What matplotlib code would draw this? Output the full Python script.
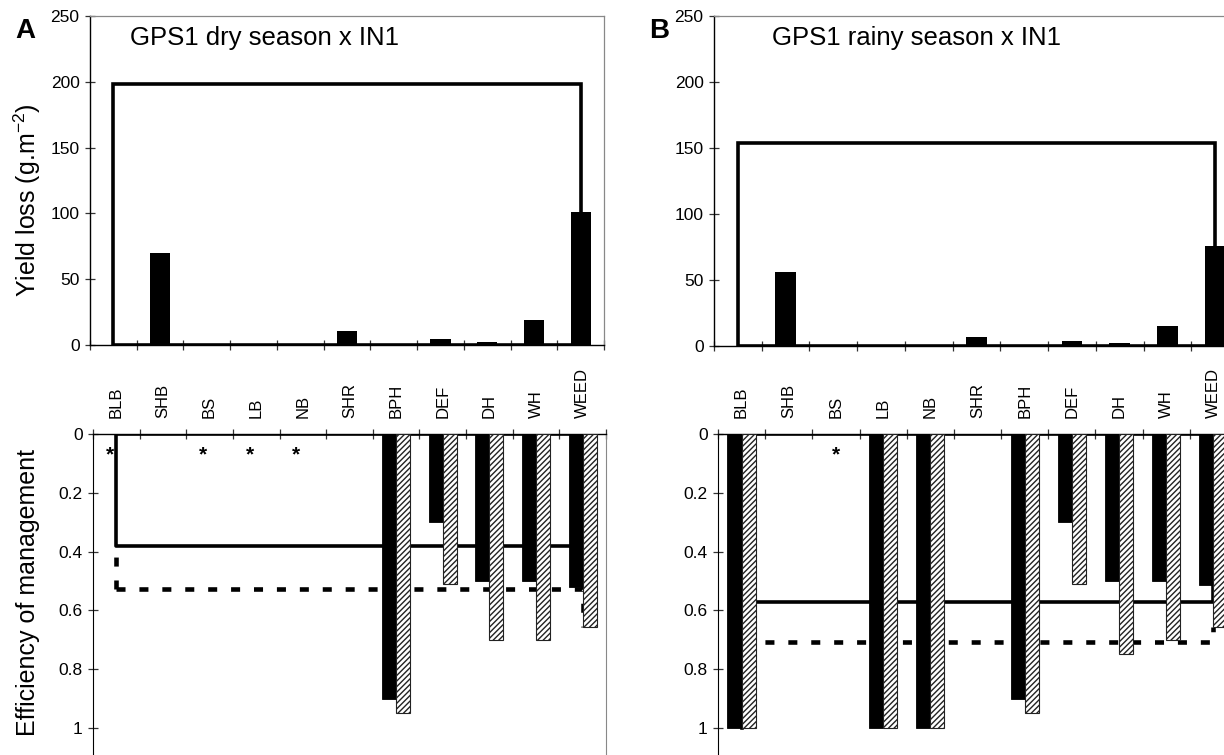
import numpy as np
import matplotlib
matplotlib.use("Agg")
import matplotlib.pyplot as plt

plt.rcParams["font.family"] = ["Liberation Sans", "DejaVu Sans"]
plt.rcParams["mathtext.fontset"] = "custom"
plt.rcParams["mathtext.rm"] = "Liberation Sans"
plt.rcParams["mathtext.it"] = "Liberation Sans:italic"
plt.rcParams["hatch.linewidth"] = 1.0
plt.rcParams["lines.scale_dashes"] = False

# ---- data ----
categories = ["BLB", "SHB", "BS", "LB", "NB", "SHR", "BPH", "DEF", "DH", "WH", "WEED"]

loss_dry = [0, 70, 0, 0, 0, 10.5, 0.5, 4.5, 2, 19, 101]
loss_rainy = [0, 56, 0, 0, 0, 7, 1, 4, 2, 15, 76]
loss_level_dry = 198
loss_level_rainy = 154

nan = np.nan
eff_dry_solid = [nan, nan, nan, nan, nan, nan, 0.90, 0.30, 0.50, 0.50, 0.52]
eff_dry_hatch = [nan, nan, nan, nan, nan, nan, 0.95, 0.51, 0.70, 0.70, 0.655]
eff_rainy_solid = [1.0, nan, nan, 1.0, 1.0, nan, 0.90, 0.30, 0.50, 0.50, 0.515]
eff_rainy_hatch = [1.0, nan, nan, 1.0, 1.0, nan, 0.95, 0.51, 0.75, 0.70, 0.657]
eff_level_dry = (0.38, 0.527)
eff_level_rainy = (0.571, 0.707)

star_dry = ["BLB", "BS", "LB", "NB"]
star_rainy = ["BS"]

W, H = 1224, 755
fig = plt.figure(figsize=(W / 100, H / 100), dpi=100)


def box(x0, y_top, width, height):
    return [x0 / W, (H - y_top - height) / H, width / W, height / H]


n = len(categories)
xc = np.arange(n) + 0.5
LW = 2.6
DASH = (0, (6.5, 10.0))


def style_common(ax):
    ax.set_xlim(0, n)
    ax.tick_params(axis="both", which="both", direction="inout", length=7,
                   width=0.9, color="#333333", labelsize=12.5)


def loss_panel(ax, values, level):
    style_common(ax)
    ax.set_ylim(0, 250)
    ax.set_yticks(np.arange(0, 251, 50))
    ax.set_xticks(np.arange(n + 1))
    ax.set_xticklabels([])
    ax.tick_params(axis="y", pad=4)
    for s in ("top", "right"):
        ax.spines[s].set_color("#888888")
        ax.spines[s].set_linewidth(0.9)
    for s in ("left", "bottom"):
        ax.spines[s].set_linewidth(1.0)
    ax.bar(xc, values, width=0.43, color="black", zorder=3)
    ax.plot([xc[0], xc[-1]], [0, 0], color="black", lw=LW, zorder=2,
            solid_capstyle="butt")
    ax.plot([xc[0], xc[0], xc[-1], xc[-1]],
            [values[0], level, level, values[-1]],
            color="black", lw=LW, zorder=2, solid_joinstyle="miter")


def eff_panel(ax, solid, hatched, levels, stars, star_dx):
    style_common(ax)
    ax.set_ylim(1.092, 0)
    ax.set_yticks([0, 0.2, 0.4, 0.6, 0.8, 1.0])
    ax.set_yticklabels(["0", "0.2", "0.4", "0.6", "0.8", "1"])
    ax.tick_params(axis="y", pad=4)
    ax.xaxis.tick_top()
    ax.set_xticks(xc)
    ax.set_xticklabels(categories, rotation=90, fontsize=12)
    ax.set_xticks(np.arange(n + 1), minor=True)
    ax.tick_params(axis="x", which="major", length=0, pad=11.5)
    ax.tick_params(axis="x", which="minor", direction="inout", length=7)
    ax.spines["bottom"].set_visible(False)
    ax.spines["right"].set_color("#888888")
    ax.spines["top"].set_linewidth(1.0)

    s = np.array(solid, dtype=float)
    h = np.array(hatched, dtype=float)
    ax.bar(xc - 0.15, s, width=0.3, color="black", edgecolor="black",
           linewidth=0.6, zorder=3)
    ax.bar(xc + 0.15, h, width=0.3, color="white", edgecolor="#222222",
           hatch="//////", linewidth=0.8, zorder=3)

    s0 = np.nan_to_num(s)
    h0 = np.nan_to_num(h)
    ax.plot([xc[0], xc[-1]], [0, 0], color="black", lw=LW, zorder=2,
            solid_capstyle="butt")
    ax.plot([xc[0], xc[0], xc[-1], xc[-1]],
            [s0[0], levels[0], levels[0], s0[-1]],
            color="black", lw=LW, zorder=2)
    # dashed bracket: both legs start at the corner so a dash sits on it;
    # the first leg stops where it would run along the solid one
    dash_kw = dict(color="black", lw=3.3, linestyle=DASH, zorder=2,
                   dash_capstyle="butt")
    first_end = levels[0] if h0[0] < levels[0] else h0[0]
    ax.plot([xc[0], xc[0]], [levels[1], first_end], **dash_kw)
    ax.plot([xc[0], xc[-1], xc[-1]], [levels[1], levels[1], h0[-1]], **dash_kw)

    for c in stars:
        i = categories.index(c)
        ax.text(xc[i] + star_dx, 0.072, "*", ha="center", va="center",
                fontsize=15, fontweight="bold")


axA_top = fig.add_axes(box(90, 16, 514, 329))
axA_bot = fig.add_axes(box(93, 434, 513, 321))
axB_top = fig.add_axes(box(714, 16, 525, 330))
axB_bot = fig.add_axes(box(718, 434, 519, 321))

loss_panel(axA_top, loss_dry, loss_level_dry)
loss_panel(axB_top, loss_rainy, loss_level_rainy)
eff_panel(axA_bot, eff_dry_solid, eff_dry_hatch, eff_level_dry, star_dry, -0.14)
eff_panel(axB_bot, eff_rainy_solid, eff_rainy_hatch, eff_level_rainy, star_rainy, 0.0)

fig.text(130 / W, 1 - 45 / H, "GPS1 dry season x IN1", fontsize=18.5,
         ha="left", va="baseline")
fig.text(772 / W, 1 - 45 / H, "GPS1 rainy season x IN1", fontsize=18.5,
         ha="left", va="baseline")
fig.text(25 / W, 1 - 31 / H, "A", fontsize=20, fontweight="bold",
         ha="center", va="center")
fig.text(659 / W, 1 - 31 / H, "B", fontsize=20, fontweight="bold",
         ha="center", va="center")
fig.text(27 / W, 1 - 200 / H, r"Yield loss (g.m$^{-2}$)", fontsize=18,
         rotation=90, ha="center", va="center")
fig.text(28 / W, 1 - 593 / H, "Efficiency of management", fontsize=18,
         rotation=90, ha="center", va="center")

fig.savefig("out.png", dpi=100)
